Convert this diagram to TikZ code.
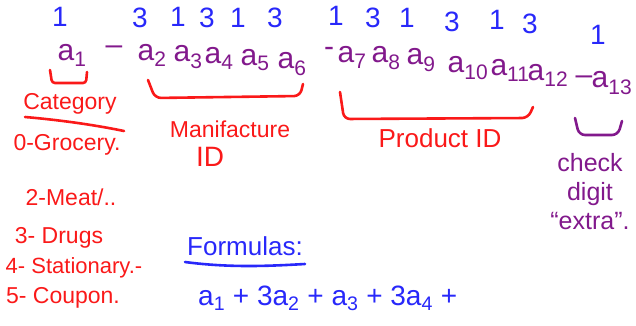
\documentclass[tikz,border=0pt]{standalone}
\usepackage{fontspec}
\setmainfont{Liberation Sans}
\usetikzlibrary{positioning}
\definecolor{penblue}{RGB}{40,40,250}
\definecolor{penpurple}{RGB}{130,25,140}
\definecolor{penred}{RGB}{250,25,25}

\begin{document}
\begin{tikzpicture}[x=1pt, y=-1pt,
  weight/.style={text=penblue, font=\fontsize{28}{30}\selectfont, inner sep=0pt},
  digit/.style={text=penpurple, font=\fontsize{30}{32}\selectfont, inner sep=0pt},
  redtext/.style={text=penred, font=\fontsize{23}{25}\selectfont, inner sep=0pt},
  pen/.style={line width=2.6pt, line cap=round, line join=round, rounded corners=6pt}]
  \useasboundingbox (0,0) rectangle (636,326);

  % weights above the digits
  \foreach \x/\y/\w [count=\i] in {60/17/1, 140/18/3, 178/17/1, 207/18/3, 238/18/1, 275/18/3,
      336/16/1, 373/18/3, 407/18/1, 452/22/3, 497/20/1, 530/24/3, 598/35/1}
    \node[weight] (w\i) at (\x,\y) {\w};

  % digits a1 ... a13
  \foreach \x/\y [count=\i] in {72/55, 152/55, 188/57, 219/58, 255/60, 292/64,
      352/57, 386/58, 421/60, 468/68, 510/70, 548/75, 612/83}
    \node[digit] (a\i) at (\x,\y) {a\textsubscript{\i}};
  \node[digit] (dash1) at (114,50) {–};
  \node[digit] (dash2) at (329,52) {-};
  \node[digit] (dash3) at (584,80) {–};

  % brackets
  \draw[pen, penred, rounded corners=3pt] (50,70) -- (52,83) -- (86,83) -- (87,72);
  \draw[pen, penred] (148,80) -- (155,98) -- (300,96) -- (303,84);
  \draw[pen, penred] (340,92) -- (344,119) -- (528,118) -- (533,107);
  \draw[pen, penpurple] (575,118) -- (579,135) -- (618,135) -- (622,121);

  % category list
  \node[redtext] (cat) at (70,104) {Category};
  \draw[pen, penred] (25,117) .. controls (60,120) and (95,125) .. (124,131);
  \node[redtext] (c0) at (67,145) {0-Grocery.};
  \node[redtext] (c2) at (71,197) {2-Meat/..};
  \node[redtext] (c3) at (59,238) {3- Drugs};
  \node[redtext, font=\fontsize{22}{24}\selectfont] (c4) at (74,268) {4- Stationary.-};
  \node[redtext] (c5) at (63,298) {5- Coupon.};

  % groups
  \node[redtext] (manu) at (230,129) {Manifacture};
  \node[redtext, font=\fontsize{28}{30}\selectfont] (manuid) at (210,157) {ID};
  \node[redtext, font=\fontsize{26}{28}\selectfont] (prod) at (440,138) {Product ID};
  \node[digit, font=\fontsize{25}{29}\selectfont, align=center] (check) at (590,192)
    {check\\digit\\“extra”.};

  % formula
  \node[weight, font=\fontsize{26}{28}\selectfont] (form) at (245,246) {Formulas:};
  \draw[pen, penblue] (185,262) .. controls (230,268) and (270,266) .. (305,264);
  \node[weight, anchor=west] (sum) at (198,298)
    {a\textsubscript{1} + 3a\textsubscript{2} + a\textsubscript{3} + 3a\textsubscript{4} +};
\end{tikzpicture}
\end{document}
